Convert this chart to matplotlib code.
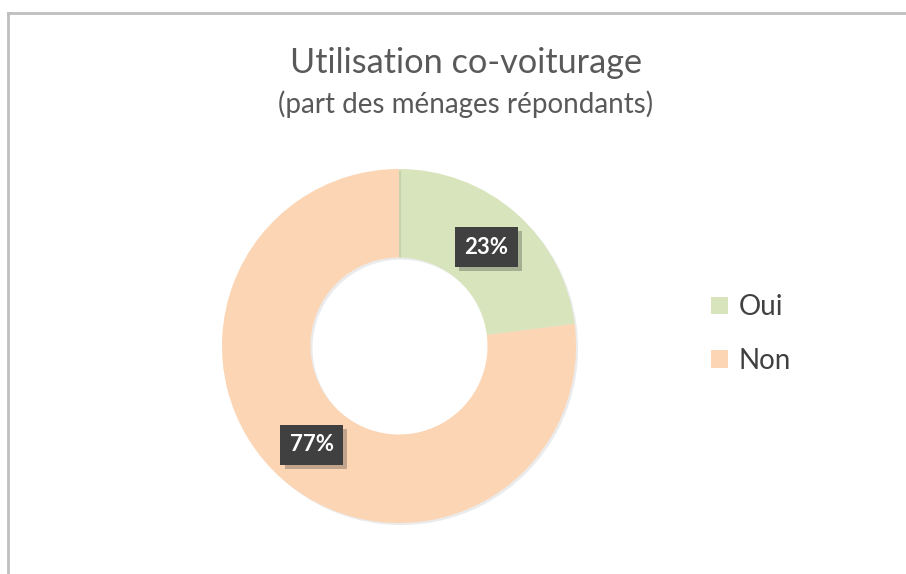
import matplotlib
matplotlib.use("Agg")
import matplotlib.pyplot as plt
import matplotlib.patheffects as pe
from matplotlib.lines import Line2D
from matplotlib.patches import Patch

categories = ["Oui", "Non"]
values = [23, 77]
colors = ["#d8e4bc", "#fcd5b4"]
title = "Utilisation co-voiturage"
subtitle = "(part des ménages répondants)"

plt.rcParams['font.family'] = ['Lato', 'DejaVu Sans']

W, H = 906, 574
fig = plt.figure(figsize=(W / 100, H / 100), dpi=100)
fig.patch.set_facecolor("white")

# border (top and left)
fig.add_artist(Line2D([8 / W, 8 / W], [0, 1 - 13 / H], transform=fig.transFigure, color="#bfbfbf", lw=2))
fig.add_artist(Line2D([8 / W, 1], [1 - 13 / H, 1 - 13 / H], transform=fig.transFigure, color="#bfbfbf", lw=2))

cx, cy, R = 399, 346, 177
ax = fig.add_axes([(cx - R) / W, (H - cy - R) / H, 2 * R / W, 2 * R / H])
wedges, texts, autotexts = ax.pie(
    values, colors=colors, startangle=90, counterclock=False, radius=1,
    wedgeprops=dict(width=0.5, edgecolor="none"),
    autopct="%.0f%%", pctdistance=0.745,
)
for w in wedges:
    w.set_path_effects([pe.SimplePatchShadow(offset=(1.5, -1.5), shadow_rgbFace="#000000", alpha=0.08), pe.Normal()])
for t in autotexts:
    t.set_color("white")
    t.set_fontsize(16)
    t.set_fontweight("bold")
    t.set_bbox(dict(boxstyle="square,pad=0.42", facecolor="#404040", edgecolor="none",
                    path_effects=[pe.SimplePatchShadow(offset=(3, -3), alpha=0.25), pe.Normal()]))
ax.set_xlim(-1, 1)
ax.set_ylim(-1, 1)
ax.set_aspect("equal")
ax.axis("off")

fig.text(466 / W, 1 - 63 / H, title, ha="center", va="center", fontsize=24.7, color="#595959")
fig.text(466 / W, 1 - 104 / H, subtitle, ha="center", va="center", fontsize=20, color="#595959")

handles = [Patch(facecolor=c, edgecolor="none") for c in colors]
fig.legend(handles, categories, loc="center left", bbox_to_anchor=(686 / W, 1 - 334 / H),
           frameon=False, fontsize=20, labelcolor="#404040", handlelength=0.6, handleheight=0.6,
           handletextpad=0.4, labelspacing=1.0)

fig.savefig("out.png", dpi=100)
